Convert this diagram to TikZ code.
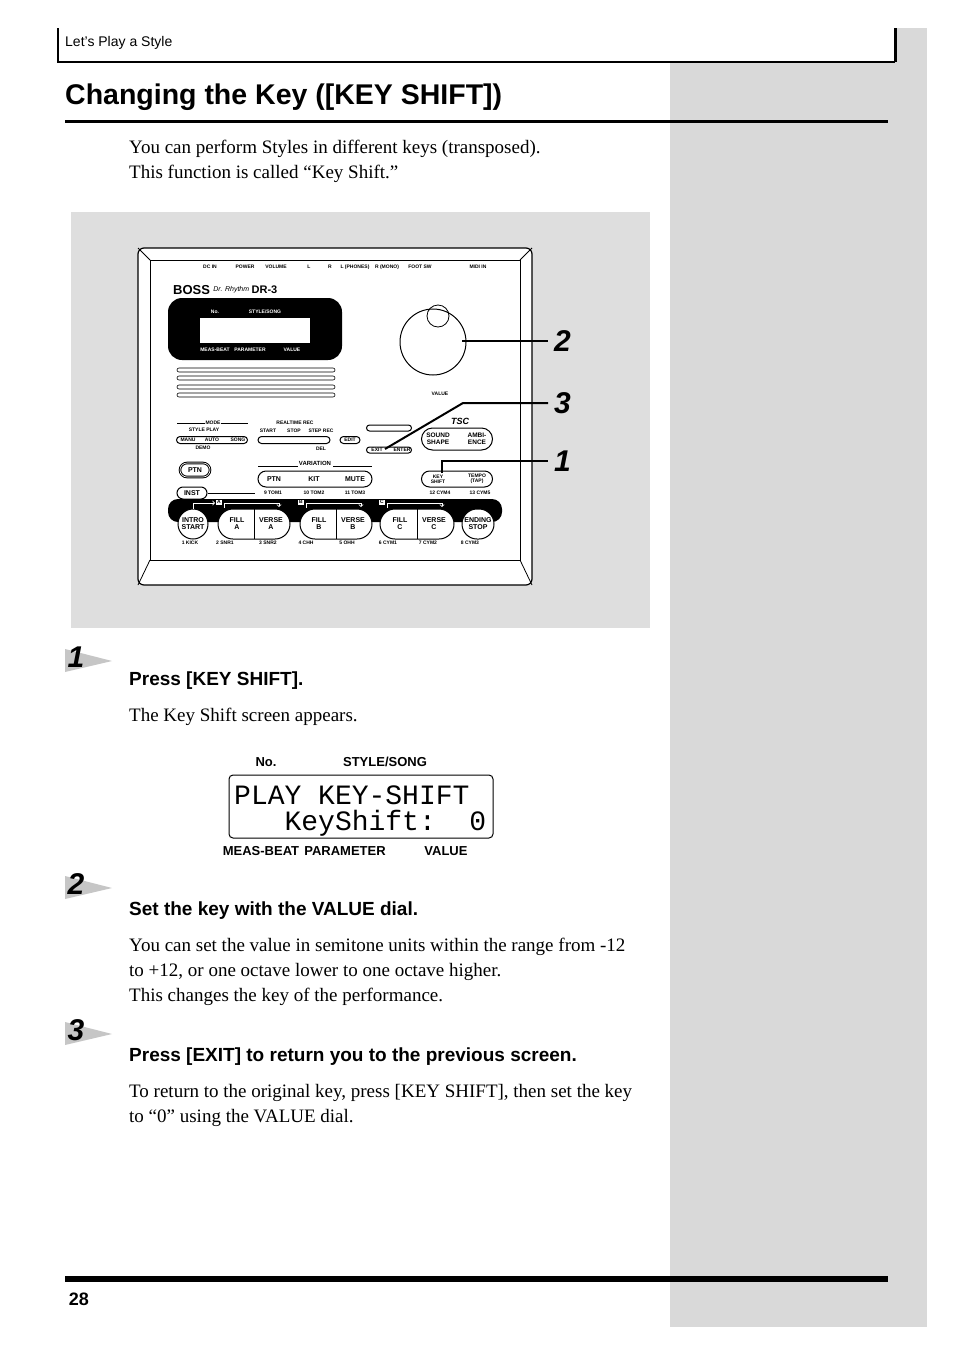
\documentclass[tikz,border=0pt]{standalone}
\usepackage{fontspec}
\setmainfont{Liberation Serif}
\newfontfamily\headfont{Liberation Sans}
\newfontfamily\lcdfont{Liberation Mono}
\usetikzlibrary{positioning,shapes.misc}
\definecolor{sidegray}{gray}{0.85}
\definecolor{panelgray}{gray}{0.87}

\tikzset{
  body/.style={anchor=west,inner sep=0pt,font=\fontsize{19}{22}\selectfont},
  stephead/.style={anchor=west,inner sep=0pt,font=\headfont\bfseries\fontsize{19}{21}\selectfont},
  stepnum/.style={inner sep=0pt,font=\headfont\bfseries\itshape\fontsize{30}{30}\selectfont},
  tiny/.style={inner sep=0pt,font=\headfont\bfseries\fontsize{5}{5}\selectfont},
  lcdlab/.style={inner sep=0pt,font=\headfont\bfseries\fontsize{13}{13}\selectfont},
  btn/.style={draw,line width=1pt,rounded rectangle,inner sep=0pt,fill=white,
    font=\headfont\bfseries\fontsize{7}{7}\selectfont,align=center},
  padlab/.style={inner sep=0pt,font=\headfont\bfseries\fontsize{7}{7}\selectfont,align=center},
  callout/.style={line width=2pt},
}

\begin{document}
\begin{tikzpicture}[x=1pt,y=-1pt]
\useasboundingbox (0,0) rectangle (954,1352);
\fill[white] (0,0) rectangle (954,1352);

% sidebar and header
\fill[sidegray] (670,62) rectangle (927,1327);
\fill[sidegray] (895,28) rectangle (927,62);
\draw[line width=1.5pt] (58,28) -- (58,62) -- (895,62);
\draw[line width=3pt] (895,28) -- (895,62);
\node[anchor=west,inner sep=0pt,font=\headfont\fontsize{14}{14}\selectfont] (hdr) at (65,43) {Let’s Play a Style};

% title
\node[anchor=west,inner sep=0pt,font=\headfont\bfseries\fontsize{28.5}{28}\selectfont] (title) at (65,97) {Changing the Key ([KEY SHIFT])};
\draw[line width=3pt] (65,121) -- (888,121);
\node[body] (intro1) at (129,149) {You can perform Styles in different keys (transposed).};
\node[body] (intro2) at (129,174) {This function is called “Key Shift.”};

% panel with the unit
\fill[panelgray] (71,212) rectangle (650,628);
\draw[line width=1.2pt,fill=white,rounded corners=6pt] (138,248) rectangle (532,585);
\draw[line width=0.8pt] (150,260) rectangle (520,560);
\draw[line width=0.8pt] (138,248) -- (150,260) (532,248) -- (520,260) (138,585) -- (150,560) (532,585) -- (520,560);

\foreach \x/\t in {210/DC IN,245/POWER,276/VOLUME,309/L,330/R,355/L (PHONES),387/R (MONO),420/FOOT SW,478/MIDI IN}
  \node[tiny] at (\x,267) {\t};
\node[anchor=west,inner sep=0pt,font=\headfont\bfseries\fontsize{13}{13}\selectfont] (logo) at (173,290) {BOSS};
\node[right=3pt of logo,inner sep=0pt,font=\headfont\itshape\fontsize{7}{7}\selectfont] (drr) {Dr. Rhythm};
\node[right=2pt of drr,inner sep=0pt,font=\headfont\bfseries\fontsize{11}{11}\selectfont] {DR-3};

% display
\fill[rounded corners=14pt] (168,298) rectangle (342,360);
\fill[white] (200,318) rectangle (310,343);
\node[tiny,text=white] at (215,312) {No.};
\node[tiny,text=white] at (265,312) {STYLE/SONG};
\node[tiny,text=white] at (215,350) {MEAS-BEAT};
\node[tiny,text=white] at (250,350) {PARAMETER};
\node[tiny,text=white] at (292,350) {VALUE};
\foreach \y in {370,378,387,395}
  \draw[line width=0.6pt,rounded corners=2pt] (177,\y-2) rectangle (335,\y+2);

% dial
\node[draw,circle,line width=1pt,minimum size=66pt] (dial) at (433,342) {};
\node[draw,circle,line width=0.8pt,minimum size=22pt] (knob) at (438,316) {};
\node[tiny] (vallab) at (440,394) {VALUE};

% mode / realtime / edit
\node[tiny] at (213,423) {MODE};
\node[tiny] at (204,430) {STYLE PLAY};
\draw[line width=0.5pt] (177,423) -- (205,423) (221,423) -- (248,423);
\node[btn,minimum width=71pt,minimum height=7pt] (mode) at (212,440) {};
\node[tiny] at (188,440) {MANU};
\node[tiny] at (212,440) {AUTO};
\node[tiny] at (238,440) {SONG};
\node[tiny] at (203,448) {DEMO};
\node[tiny] at (295,423) {REALTIME REC};
\node[tiny] at (268,431) {START};
\node[tiny] at (294,431) {STOP};
\node[tiny] at (321,431) {STEP REC};
\node[btn,minimum width=72pt,minimum height=7pt] (rec) at (294,440) {};
\node[tiny] at (321,449) {DEL};
\node[btn,minimum width=20pt,minimum height=7pt,font=\headfont\bfseries\fontsize{5}{5}\selectfont] (edit) at (350,440) {EDIT};
\node[btn,minimum width=45pt,minimum height=6pt] (arrows) at (389,428) {};
\node[btn,minimum width=45pt,minimum height=6pt] (exitenter) at (389,450) {};
\node[tiny] at (377,450) {EXIT};
\node[tiny] at (402,450) {ENTER};
\node[font=\headfont\bfseries\itshape\fontsize{9}{9}\selectfont,inner sep=0pt] (tsc) at (460,421) {TSC};
\node[btn,minimum width=71pt,minimum height=22pt] (tscbtn) at (457,439) {};
\node[tiny,font=\headfont\bfseries\fontsize{6.5}{6.5}\selectfont,align=center] at (438,439) {SOUND\\SHAPE};
\node[tiny,font=\headfont\bfseries\fontsize{6.5}{6.5}\selectfont,align=center] at (477,439) {AMBI-\\ENCE};

% variation row
\node[btn,double,minimum width=30pt,minimum height=14pt] (ptn) at (195,470) {PTN};
\node[btn,minimum width=30pt,minimum height=12pt] (inst) at (192,493) {INST};
\node[tiny,font=\headfont\bfseries\fontsize{6}{6}\selectfont] (var) at (315,463) {VARIATION};
\draw[line width=0.6pt] (258,466) -- (298,466) (333,466) -- (372,466);
\node[btn,minimum width=114pt,minimum height=16pt] (varbtn) at (315,479) {};
\node[padlab] at (274,479) {PTN};
\node[padlab] at (314,479) {KIT};
\node[padlab] at (355,479) {MUTE};
\draw[line width=0.6pt] (inst.east) -- (255,493);
\foreach \x/\t in {273/9 TOM1,314/10 TOM2,355/11 TOM3,440/12 CYM4,480/13 CYM5}
  \node[tiny] at (\x,493) {\t};
\node[btn,minimum width=71pt,minimum height=16pt] (keybtn) at (457,479) {};
\node[tiny,align=center] (keyshift) at (438,479) {KEY\\SHIFT};
\node[tiny,align=center] at (477,479) {TEMPO\\(TAP)};

% pad row
\fill[rounded corners=10pt] (168,499) rectangle (502,522);
\node[btn,minimum width=30pt,minimum height=30pt,font=\headfont\bfseries\fontsize{7}{7}\selectfont] (intro) at (193,524) {INTRO\\START};
\node[btn,minimum width=72pt,minimum height=30pt] (padA) at (254,524) {};
\node[btn,minimum width=72pt,minimum height=30pt] (padB) at (336,524) {};
\node[btn,minimum width=74pt,minimum height=30pt] (padC) at (417,524) {};
\node[btn,minimum width=32pt,minimum height=30pt,font=\headfont\bfseries\fontsize{7}{7}\selectfont] (ending) at (478,524) {ENDING\\STOP};
\foreach \p/\l/\x in {padA/A/254,padB/B/336,padC/C/417}{
  \node[padlab] at (\x-17,524) {FILL\\\l};
  \node[padlab] at (\x+17,524) {VERSE\\\l};
  \draw[line width=0.5pt] (\x,509) -- (\x,539);
  \draw[white,line width=0.8pt,->] (\x-30,508) -- (\x-30,503) -- (\x+25,503) -- (\x+25,507);
  \node[draw=white,fill=white,text=black,inner sep=0.5pt,font=\headfont\bfseries\fontsize{5}{5}\selectfont] at (\x-35,502) {\l};
}
\draw[white,line width=0.8pt,->] (193,509) -- (193,503) -- (215,503);
\foreach \x/\t in {190/1 KICK,225/2 SNR1,268/3 SNR2,306/4 CHH,347/5 OHH,388/6 CYM1,428/7 CYM2,470/8 CYM3}
  \node[tiny] at (\x,543) {\t};

% callouts
\coordinate (c2) at (548,341);
\coordinate (c3) at (548,403);
\coordinate (c1) at (548,461);
\draw[callout] (462,341) -- (c2);
\draw[callout] (385,449) -- (463,403) -- (c3);
\draw[callout] (442,473) -- (442,461) -- (c1);
\node[stepnum,right=6pt of c2] {2};
\node[stepnum,right=6pt of c3] {3};
\node[stepnum,right=6pt of c1] {1};

% step markers
\foreach \y/\n in {660/1,887/2,1033/3}{
  \fill[gray!45] (65,\y-11) -- (112,\y+1) -- (65,\y+12) -- cycle;
  \node[stepnum] at (76,\y-3) {\n};
}

% step 1
\node[stephead] (s1) at (129,681) {Press [KEY SHIFT].};
\node[body] (s1t) at (129,717) {The Key Shift screen appears.};
\node[draw,line width=1pt,rounded corners=4pt,minimum width=264pt,minimum height=63pt] (lcd) at (361,806.5) {};
\node[anchor=base west,inner sep=0pt,font=\lcdfont\fontsize{28}{28}\selectfont] (lcdtop) at (234,804) {PLAY KEY-SHIFT};
\node[anchor=base west,inner sep=0pt,font=\lcdfont\fontsize{28}{28}\selectfont] (lcdbot) at (234,830) {\ \ \ KeyShift:\ \ 0};
\node[lcdlab] at (266,762) {No.};
\node[lcdlab] at (385,762) {STYLE/SONG};
\node[lcdlab] at (261,851) {MEAS-BEAT};
\node[lcdlab] at (345,851) {PARAMETER};
\node[lcdlab] at (446,851) {VALUE};

% step 2
\node[stephead] (s2) at (129,911) {Set the key with the VALUE dial.};
\node[body] at (129,947) {You can set the value in semitone units within the range from -12};
\node[body] at (129,972) {to +12, or one octave lower to one octave higher.};
\node[body] at (129,997) {This changes the key of the performance.};

% step 3
\node[stephead] (s3) at (129,1057) {Press [EXIT] to return you to the previous screen.};
\node[body] at (129,1093) {To return to the original key, press [KEY SHIFT], then set the key};
\node[body] at (129,1118) {to “0” using the VALUE dial.};

% footer
\draw[line width=6pt] (65,1279) -- (888,1279);
\node[inner sep=0pt,font=\headfont\bfseries\fontsize{18}{18}\selectfont] (page) at (79,1299) {28};
\end{tikzpicture}
\end{document}
